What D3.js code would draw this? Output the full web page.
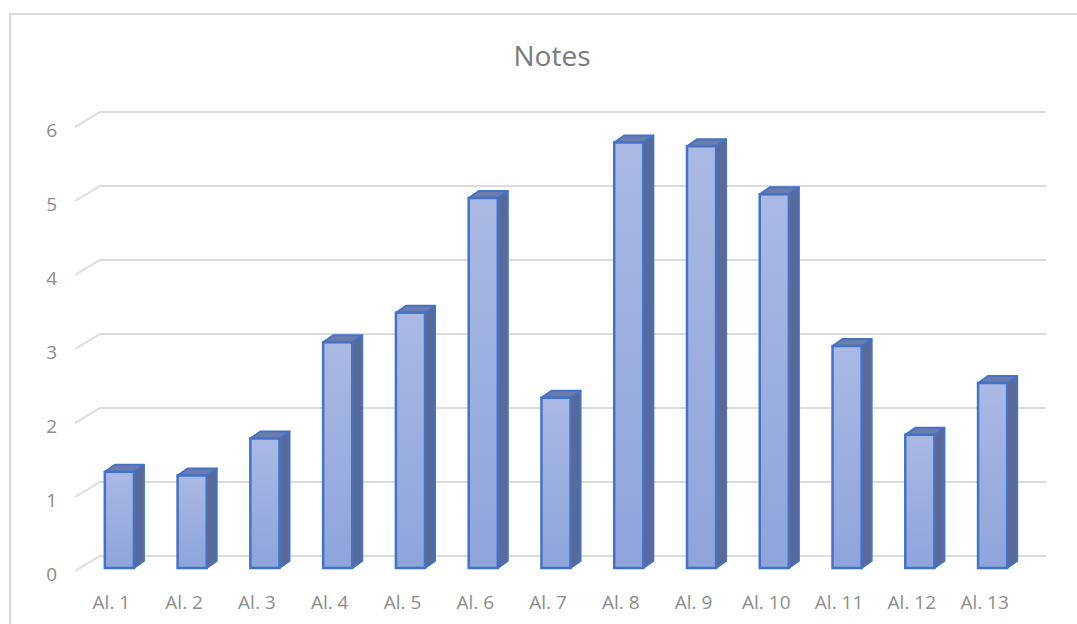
<!DOCTYPE html>
<html>
<head>
<meta charset="utf-8">
<script src="https://cdn.jsdelivr.net/npm/d3@7"></script>
<style>
  html, body { margin: 0; padding: 0; background: #fff; }
  svg { display: block; }
</style>
</head>
<body>
<svg id="chart" width="1077" height="624"></svg>
<script>
// Student scores
const categories = ["Al. 1", "Al. 2", "Al. 3", "Al. 4", "Al. 5", "Al. 6", "Al. 7",
                    "Al. 8", "Al. 9", "Al. 10", "Al. 11", "Al. 12", "Al. 13"];
const scores = [1.3, 1.25, 1.75, 3.05, 3.45, 5.0, 2.3, 5.75, 5.7, 5.05, 3.0, 1.8, 2.5];
const yTicks = [0, 1, 2, 3, 4, 5, 6];
const chartTitle = "Notes";

const svg = d3.select("#chart");
const W = 1077, H = 624;
const font = "'Open Sans', 'Noto Sans', sans-serif";

// Back wall geometry and 3D offsets
const wall = { left: 100, right: 1046, top: 112, bottom: 556 };
const floorFront = { dx: -25, dy: 15 };   // back wall -> front edge of floor
const barFront = { dx: -17, dy: 12 };     // back wall -> front face of bars
const barDepth = { dx: 10, dy: -7 };      // front face -> back face of a bar

const x = d3.scaleBand().domain(categories).range([wall.left, wall.right]).paddingInner(0.6).paddingOuter(0.3);
const xCat = d3.scaleBand().domain(categories).range([wall.left, wall.right]);
const y = d3.scaleLinear().domain([0, 6]).range([wall.bottom, wall.top]);

// Chart frame
svg.append("rect")
  .attr("x", 10).attr("y", 14).attr("width", W + 20).attr("height", H + 20)
  .attr("fill", "#fff").attr("stroke", "#d9d9d9").attr("stroke-width", 2);

// Title
svg.append("text")
  .attr("x", 552).attr("y", 66)
  .attr("text-anchor", "middle")
  .attr("font-family", font).attr("font-size", 28)
  .attr("fill", "#7a7a7a")
  .text(chartTitle);

// Gridlines: side-wall diagonal plus back-wall horizontal
const grid = svg.append("g").attr("stroke", "#dcdcdc").attr("stroke-width", 2).attr("fill", "none");
grid.selectAll("path").data(yTicks).join("path")
  .attr("d", v => {
    const yb = y(v);
    return `M${wall.left + floorFront.dx},${yb + floorFront.dy}L${wall.left},${yb}L${wall.right},${yb}`;
  });

// Y tick labels
svg.append("g").selectAll("text").data(yTicks).join("text")
  .attr("x", 57)
  .attr("y", v => y(v) + floorFront.dy + 3)
  .attr("dy", "0.35em")
  .attr("text-anchor", "end")
  .attr("font-family", font).attr("font-size", 19)
  .attr("fill", "#8c8c8c")
  .text(v => v);

// X category labels, centred on the front edge of the floor
svg.append("g").selectAll("text").data(categories).join("text")
  .attr("x", c => xCat(c) + xCat.bandwidth() / 2 + floorFront.dx)
  .attr("y", 609)
  .attr("text-anchor", "middle")
  .attr("font-family", font).attr("font-size", 19)
  .attr("fill", "#8c8c8c")
  .text(c => c);

// Front face gradient
const defs = svg.append("defs");
const grad = defs.append("linearGradient").attr("id", "frontGrad")
  .attr("x1", 0).attr("y1", 0).attr("x2", 0).attr("y2", 1);
grad.append("stop").attr("offset", "0%").attr("stop-color", "#aab9e4");
grad.append("stop").attr("offset", "100%").attr("stop-color", "#8ea4db");

const data = categories.map((c, i) => ({ c, v: scores[i] }));
const stroke = "#4472c4";

const bars = svg.append("g").selectAll("g").data(data).join("g");

bars.each(function (d) {
  const g = d3.select(this);
  const x0 = x(d.c) + barFront.dx;
  const x1 = x0 + x.bandwidth();
  const yTop = y(d.v) + barFront.dy;
  const yBot = y(0) + barFront.dy;
  const ddx = barDepth.dx, ddy = barDepth.dy;

  // side face
  g.append("path")
    .attr("d", `M${x1},${yBot}L${x1},${yTop}L${x1 + ddx},${yTop + ddy}L${x1 + ddx},${yBot + ddy}Z`)
    .attr("fill", "#5a6a98").attr("stroke", stroke).attr("stroke-width", 2).attr("stroke-linejoin", "round");
  // top face
  g.append("path")
    .attr("d", `M${x0},${yTop}L${x0 + ddx},${yTop + ddy}L${x1 + ddx},${yTop + ddy}L${x1},${yTop}Z`)
    .attr("fill", "#6b7cad").attr("stroke", stroke).attr("stroke-width", 2).attr("stroke-linejoin", "round");
  // front face
  g.append("rect")
    .attr("x", x0).attr("y", yTop)
    .attr("width", x.bandwidth()).attr("height", yBot - yTop)
    .attr("fill", "url(#frontGrad)").attr("stroke", stroke).attr("stroke-width", 2.5);
});
</script>
</body>
</html>
